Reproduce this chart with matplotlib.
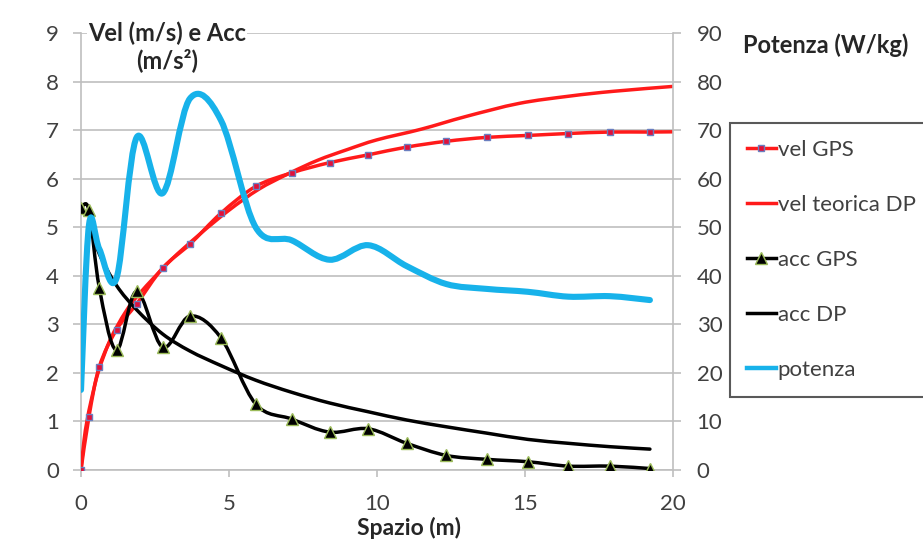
import numpy as np
import matplotlib
matplotlib.use('Agg')
import matplotlib.pyplot as plt
from matplotlib.path import Path
from matplotlib.patches import PathPatch
from matplotlib.lines import Line2D

plt.rcParams['font.family'] = ['Lato', 'DejaVu Sans']

# GPS samples (space in m)
spazio_gps = [0, 0.27, 0.62, 1.2, 1.88, 2.76, 3.68, 4.73, 5.9, 7.12, 8.4, 9.7,
              11.0, 12.34, 13.7, 15.1, 16.46, 17.87, 19.22]
vel_gps = [0, 1.1, 2.13, 2.89, 3.42, 4.16, 4.65, 5.29, 5.84, 6.12, 6.33, 6.49,
           6.65, 6.77, 6.85, 6.89, 6.93, 6.96, 6.96]
acc_gps = [5.4, 5.35, 3.75, 2.47, 3.68, 2.53, 3.17, 2.72, 1.36, 1.05, 0.78, 0.85,
           0.55, 0.3, 0.22, 0.17, 0.08, 0.08, 0.03]
potenza = [16.5, 50.5, 45.5, 39.5, 68.5, 57, 76.5, 72, 50, 47.3, 43.3, 46.3,
           42, 38.3, 37.3, 36.7, 35.7, 35.8, 35]

# last GPS velocity sample falls just past the 20 m limit
spazio_gps_vel = spazio_gps + [20.6]
vel_gps_all = vel_gps + [6.97]

# di Prampero model
spazio_dp = [0, 0.1, 0.2, 0.35, 0.6, 1.0, 1.5, 2.0, 3.0, 4.0, 5.0, 6.0, 7.0,
             8.0, 9.0, 10.0, 11.5, 13.0, 14.8, 16.5, 18.0, 20.0]
vel_dp = [0, 0.6, 1.0, 1.45, 2.05, 2.7, 3.25, 3.65, 4.3, 4.85, 5.35, 5.78, 6.1,
          6.38, 6.6, 6.8, 7.02, 7.28, 7.55, 7.7, 7.8, 7.9]
spazio_acc_dp = spazio_gps[1:]
acc_dp = [5.1, 4.45, 3.8, 3.3, 2.8, 2.45, 2.15, 1.85, 1.6, 1.38, 1.2, 1.03,
          0.89, 0.76, 0.63, 0.55, 0.48, 0.43]

RED = '#ff1a1a'
CYAN = '#17b2ea'
GRID = '#bfbfbf'
TXT = '#404040'
LW = 2.5


def smooth_path(x, y):
    # bezier segments through the points (spreadsheet style smoothed line)
    pts = np.column_stack([x, y]).astype(float)
    n = len(pts)
    verts = [pts[0]]
    codes = [Path.MOVETO]
    for i in range(n - 1):
        p0 = pts[i - 1] if i > 0 else pts[i]
        p1 = pts[i]
        p2 = pts[i + 1]
        p3 = pts[i + 2] if i + 2 < n else pts[i + 1]
        verts += [p1 + (p2 - p0) / 6, p2 - (p3 - p1) / 6, p2]
        codes += [Path.CURVE4] * 3
    return Path(verts, codes)


def curve(ax, x, y, color, lw, z):
    ax.add_patch(PathPatch(smooth_path(x, y), fill=False, edgecolor=color,
                           lw=lw, capstyle='round', joinstyle='round', zorder=z))


fig = plt.figure(figsize=(9.23, 5.4), dpi=100)
ax = fig.add_axes([81 / 923, 70 / 540, 592 / 923, 437 / 540])
ax2 = ax.twinx()

curve(ax, spazio_dp, vel_dp, RED, LW, 3)
curve(ax, spazio_gps_vel, vel_gps_all, RED, LW, 3)
ax.plot(spazio_gps_vel, vel_gps_all, ls='none', marker='s', ms=5,
        mfc='#e0103a', mec='#6a7fc0', mew=1.0, zorder=4)
curve(ax, spazio_acc_dp, acc_dp, 'black', LW, 3)
curve(ax, spazio_gps, acc_gps, 'black', LW, 3)
ax.plot(spazio_gps, acc_gps, ls='none', marker='^', ms=8,
        mfc='black', mec='#9bbb59', mew=1.0, zorder=4)
curve(ax2, spazio_gps, potenza, CYAN, 4.4, 3)

ax.set_xlim(0, 20)
ax.set_ylim(0, 9)
ax2.set_ylim(0, 90)
ax.set_xticks([0, 5, 10, 15, 20])
ax.set_yticks(range(10))
ax2.set_yticks(range(0, 100, 10))

ax.set_axisbelow(True)
ax.yaxis.grid(True, color=GRID, lw=1.2)
for s in ['top', 'right']:
    ax.spines[s].set_visible(False)
for s in ['left', 'bottom']:
    ax.spines[s].set_color(GRID)
    ax.spines[s].set_linewidth(1.2)
for s in ['top', 'left', 'bottom']:
    ax2.spines[s].set_visible(False)
ax2.spines['right'].set_color(GRID)
ax2.spines['right'].set_linewidth(1.2)

ax.tick_params(axis='y', length=6, width=1.2, color=GRID, pad=10,
               labelsize=16, labelcolor=TXT)
ax.tick_params(axis='x', length=5, width=1.2, color=GRID, pad=12,
               labelsize=16, labelcolor=TXT)
ax2.tick_params(axis='y', length=6, width=1.2, color=GRID, pad=11,
                labelsize=16, labelcolor=TXT)

fig.text(167 / 923, 1 - 47 / 540, 'Vel (m/s) e Acc\n(m/s²)', ha='center',
         va='center', fontsize=17, fontweight='bold', color='#262626',
         linespacing=1.15,
         bbox=dict(facecolor='white', edgecolor='none', pad=1))
fig.text(826 / 923, 1 - 45 / 540, 'Potenza (W/kg)', ha='center', va='center',
         fontsize=17, fontweight='bold', color='#262626')
fig.text(409 / 923, 1 - 528 / 540, 'Spazio (m)', ha='center', va='center',
         fontsize=16.5, fontweight='bold', color='#262626')

handles = [
    Line2D([], [], color=RED, lw=LW, marker='s', ms=5, mfc='#e0103a', mec='#6a7fc0'),
    Line2D([], [], color=RED, lw=LW),
    Line2D([], [], color='black', lw=LW, marker='^', ms=8, mfc='black', mec='#9bbb59'),
    Line2D([], [], color='black', lw=LW),
    Line2D([], [], color=CYAN, lw=3.2),
]
labels = ['vel GPS', 'vel teorica DP', 'acc GPS', 'acc DP', 'potenza']
leg = fig.legend(handles, labels, loc='upper left',
                 bbox_to_anchor=(730 / 923, 1 - 123 / 540),
                 bbox_transform=fig.transFigure, borderaxespad=0,
                 fontsize=16, frameon=True, fancybox=False, framealpha=1,
                 edgecolor='#595959', handlelength=1.3, handletextpad=0.1,
                 labelspacing=1.58, borderpad=0.75, numpoints=1)
leg.get_frame().set_linewidth(1.5)
for t in leg.get_texts():
    t.set_color(TXT)

fig.savefig('out.png', dpi=100)
